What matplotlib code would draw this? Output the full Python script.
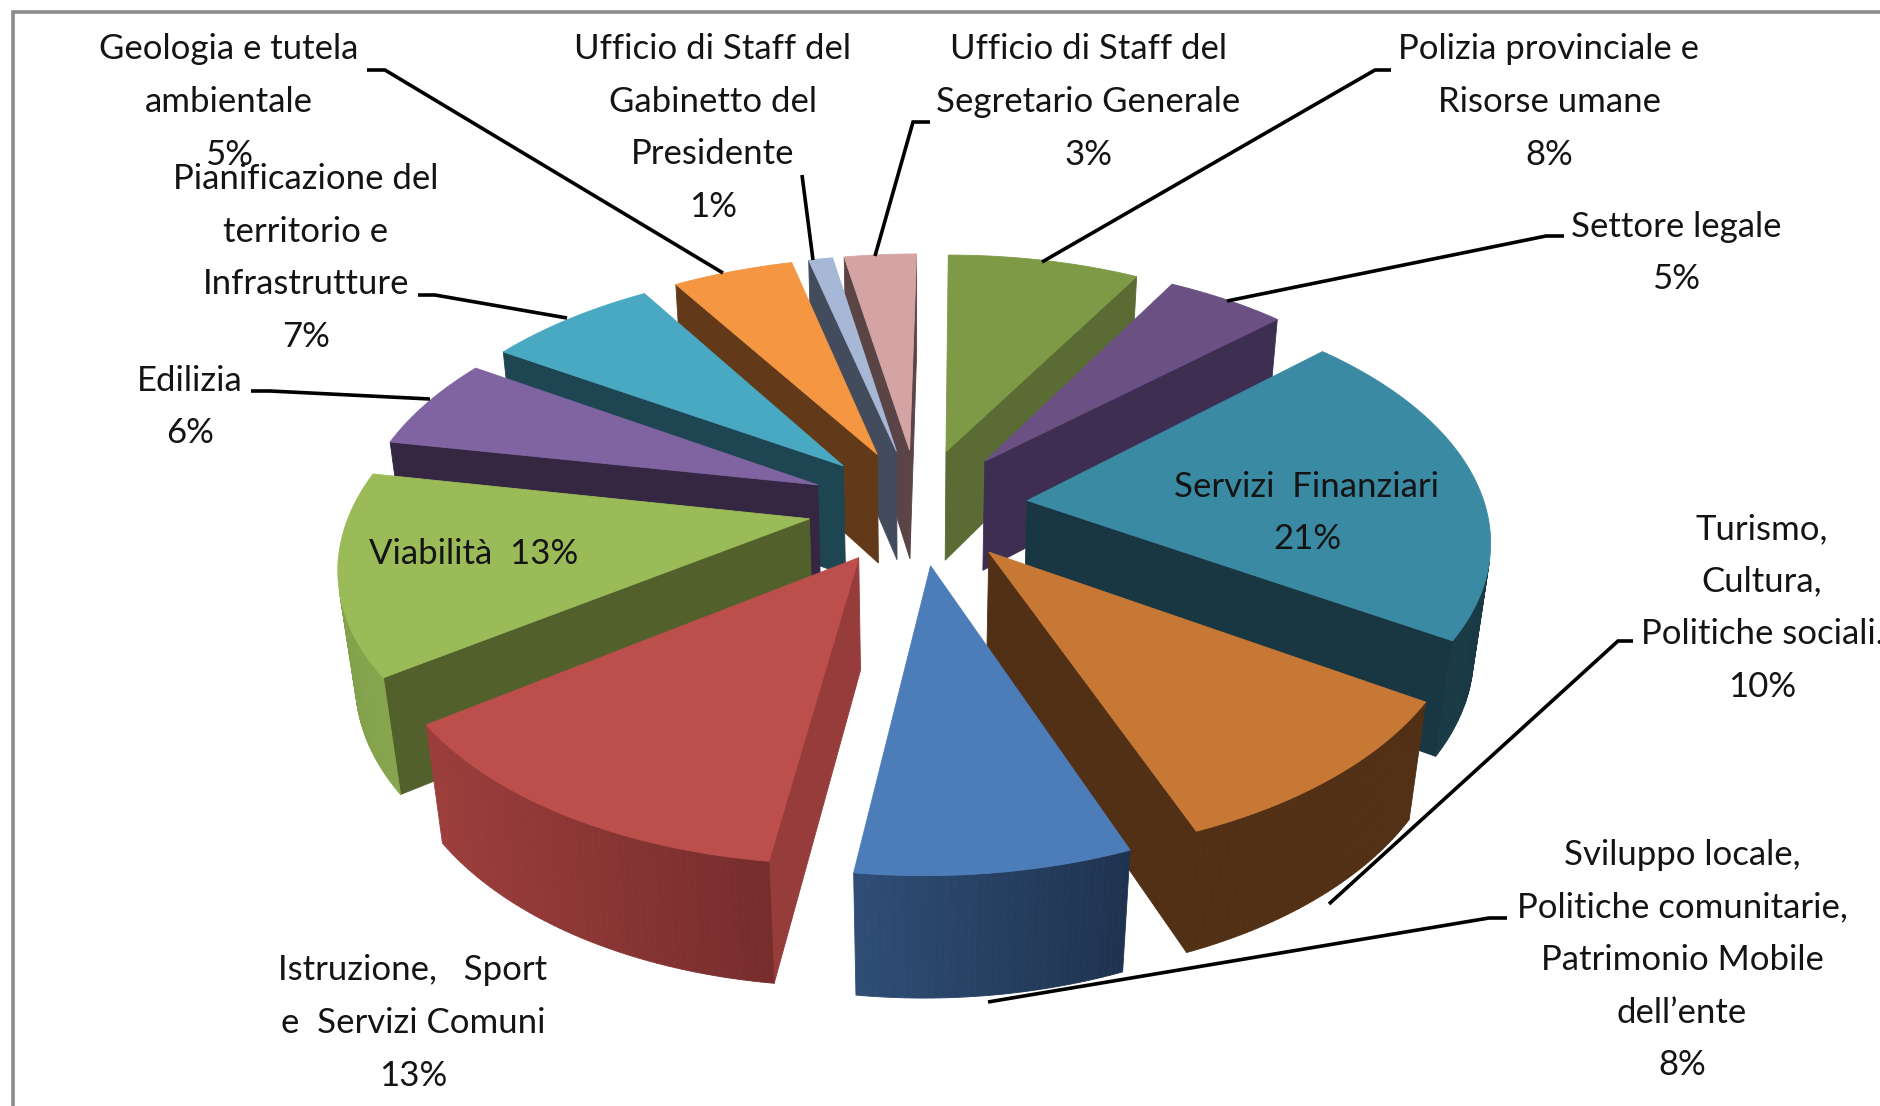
import numpy as np
import matplotlib
matplotlib.use("Agg")
import matplotlib.pyplot as plt
from matplotlib.colors import to_rgb
from matplotlib.patches import Polygon

plt.rcParams["font.family"] = ["Lato", "DejaVu Sans"]

# Data, clockwise from the top
names = [
    "Polizia provinciale e\nRisorse umane",
    "Settore legale",
    "Servizi  Finanziari",
    "Turismo,\nCultura,\nPolitiche sociali.",
    "Sviluppo locale,\nPolitiche comunitarie,\nPatrimonio Mobile\ndell’ente",
    "Istruzione,   Sport\ne  Servizi Comuni",
    "Viabilità",
    "Edilizia",
    "Pianificazione del\nterritorio e\nInfrastrutture",
    "Geologia e tutela\nambientale",
    "Ufficio di Staff del\nGabinetto del\nPresidente",
    "Ufficio di Staff del\nSegretario Generale",
]
values = [8, 5, 21, 10, 8, 13, 13, 6, 7, 5, 1, 3]

# Colours
top_colors = ["#7E9A46", "#6A5083", "#3B8AA3", "#C87835", "#4D7DB9", "#BC4E4C",
              "#9BBB59", "#8064A2", "#49A9C3", "#F49642", "#A7B8D6", "#D4A4A5"]
wall_colors = ["#5A6B33", "#3E2F52", "#193742", "#523015", "#2F4E76", "#963C3A",
               "#52602C", "#352642", "#1E4552", "#633A19", "#434C5C", "#5B4445"]
rim_left = ["#5A6B33", "#3E2F52", "#193742", "#523015", "#2F4E76", "#9C3E3C",
            "#83A14B", "#352642", "#1E4552", "#633A19", "#434C5C", "#5B4445"]
rim_right = ["#5A6B33", "#3E2F52", "#193A45", "#523015", "#1F3350", "#762D2C",
             "#87A54D", "#352642", "#1E4552", "#633A19", "#434C5C", "#5B4445"]

# Label layout: centre x, centre y
label_pos = [(1549, 102), (1676, 253), (1307, 513), (1762, 608), (1682, 960),
             (413, 1023), (474, 554), (190, 407), (306, 258), (229, 102),
             (713, 128), (1088, 102)]
separators = ["\n", "\n", "\n", "\n", "\n", "\n", "  ", "\n", "\n", "\n", "\n", "\n"]

leaders = [
    [(1391, 70), (1375, 70), (1042, 262)],
    [(1564, 236), (1546, 236), (1227, 301)],
    None,
    [(1633, 641), (1618, 641), (1329, 904)],
    [(1507, 918), (1489, 918), (988, 1002)],
    None,
    None,
    [(251, 391), (270, 391), (430, 399)],
    [(418, 295), (435, 295), (567, 318)],
    [(367, 70), (385, 70), (723, 273)],
    [(802, 175), (813, 260)],
    [(930, 122), (913, 122), (875, 256)],
]

# Pie geometry
cx, cy = 918, 506
scale_x, scale_y = 458, 242
persp = 0.153
persp_z = 0.03
shear = 7
height = 114
explode = 0.24


def project(x, y, z=0.0):
    w = 1 + persp * y - persp_z * z
    return cx + (scale_x * x + shear * y) / w, cy - (scale_y * y + height * z) / w


def signed_area(pts):
    p = np.array(pts)
    return 0.5 * np.sum(p[:, 0] * np.roll(p[:, 1], -1) - np.roll(p[:, 0], -1) * p[:, 1])


def face(ax, pts, color, z):
    ax.add_patch(Polygon(pts, closed=True, facecolor=color, edgecolor=color, lw=0.6, zorder=z))


fig = plt.figure(figsize=(18.81, 11.06), dpi=100, facecolor="white")
ax = fig.add_axes([0, 0, 1, 1])
ax.set_xlim(0, 1881)
ax.set_ylim(1106, 0)
ax.axis("off")

# Frame
ax.plot([13, 13, 1881], [1106, 12, 12], color="#8C8C8C", lw=2.6, solid_joinstyle="miter")

fractions = np.array(values) / sum(values)
ends = np.cumsum(fractions) * 2 * np.pi
starts = ends - fractions * 2 * np.pi
mids = (starts + ends) / 2

# Back slices first
order = np.argsort(-np.cos(mids))
z = 2.0
for i in order:
    ox, oy = explode * np.sin(mids[i]), explode * np.cos(mids[i])
    t = np.linspace(starts[i], ends[i], max(int(fractions[i] * 500), 6))
    rx, ry = ox + np.sin(t), oy + np.cos(t)

    top = [project(ox, oy)] + [project(a, b) for a, b in zip(rx, ry)]
    ref = signed_area(top)

    # radial walls
    for a, b in [(ox, oy), (rx[0], ry[0])], [(rx[-1], ry[-1]), (ox, oy)]:
        quad = [project(*a), project(*b), project(*b, -1), project(*a, -1)]
        if signed_area(quad) * ref < 0:
            face(ax, quad, wall_colors[i], z)
            z += 0.001

    # outer wall, drawn in strips for the gradient
    c0, c1 = np.array(to_rgb(rim_left[i])), np.array(to_rgb(rim_right[i]))
    xs = [project(a, b)[0] for a, b in zip(rx, ry)]
    for k in range(len(t) - 1):
        a, b = (rx[k], ry[k]), (rx[k + 1], ry[k + 1])
        quad = [project(*a), project(*b), project(*b, -1), project(*a, -1)]
        if signed_area(quad) * ref < 0:
            f = (xs[k] - min(xs)) / (max(xs) - min(xs))
            face(ax, quad, tuple(c0 + (c1 - c0) * f), z)
            z += 0.001

    face(ax, top, top_colors[i], z)
    z += 0.01

# Leaders
for pts in leaders:
    if pts:
        ax.plot([p[0] for p in pts], [p[1] for p in pts], color="black", lw=2.6,
                solid_capstyle="butt", solid_joinstyle="miter", zorder=20)

# Labels
for i, name in enumerate(names):
    ax.text(label_pos[i][0], label_pos[i][1], f"{name}{separators[i]}{values[i]}%",
            ha="center", va="center", ma="center", fontsize=25, linespacing=1.79,
            color="#141414", zorder=30)

fig.savefig("out.png", dpi=100, facecolor="white")
